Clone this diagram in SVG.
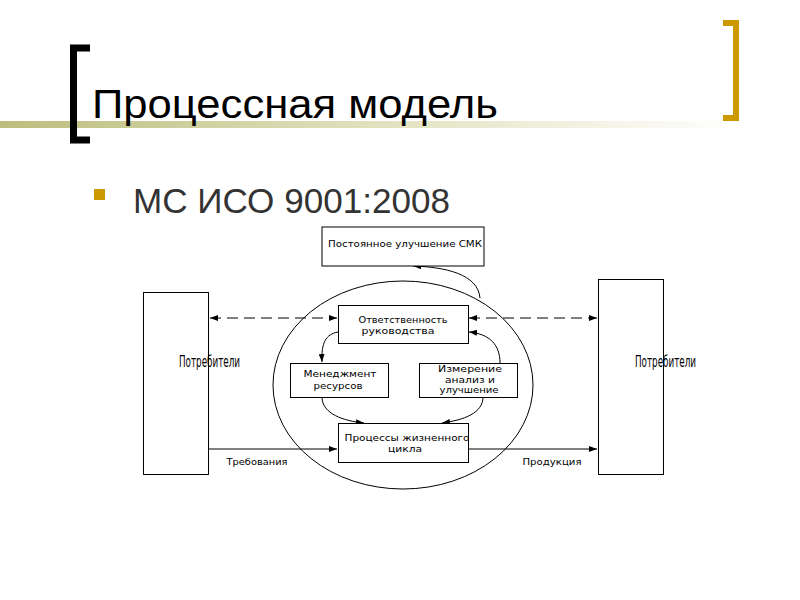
<svg xmlns="http://www.w3.org/2000/svg" width="800" height="600" viewBox="0 0 800 600">
<defs>
<linearGradient id="band" x1="0" y1="0" x2="1" y2="0">
<stop offset="0" stop-color="#BDBD7E"/>
<stop offset="0.55" stop-color="#E4E4C4"/>
<stop offset="1" stop-color="#FFFFFF"/>
</linearGradient>
<marker id="ah" viewBox="0 0 8 6" refX="8" refY="3" markerWidth="8" markerHeight="6" markerUnits="userSpaceOnUse" orient="auto-start-reverse">
<path d="M0,0 L8,3 L0,6 z" fill="#000"/>
</marker>
<style>
.box{fill:#fff;stroke:#000;stroke-width:1}
.t{font-family:"DejaVu Sans","Verdana",sans-serif;font-size:9.5px;fill:#000;text-anchor:middle}
.n{font-family:"DejaVu Sans Condensed","Liberation Sans Narrow",sans-serif;font-size:15px;fill:#000}
.c{fill:none;stroke:#000;stroke-width:1}
.d{stroke-dasharray:11,6}
</style>
</defs>
<rect width="800" height="600" fill="#fff"/>
<g id="header">
<rect x="0" y="121" width="740" height="7" fill="url(#band)"/>
<path d="M90,48 H73.5 V140 H90" fill="none" stroke="#000" stroke-width="7"/>
<path d="M723,23 H736 V118 H723" fill="none" stroke="#CC9900" stroke-width="6"/>
<text x="92" y="118" font-family="'Liberation Sans',Arial,sans-serif" font-size="40" textLength="406" lengthAdjust="spacingAndGlyphs" fill="#000">Процессная модель</text>
<rect x="94" y="189" width="11" height="11" fill="#CC9900"/>
<text x="133" y="213" font-family="'Liberation Sans',Arial,sans-serif" font-size="35" textLength="317" lengthAdjust="spacingAndGlyphs" fill="#333">МС ИСО 9001:2008</text>
</g>
<g id="connectors">
<ellipse cx="403" cy="385" rx="130" ry="104" class="c"/>
<path class="c" d="M480,298 C478,274 445,267 413,266" marker-end="url(#ah)"/>
<line class="c d" x1="210" y1="318" x2="337" y2="318" marker-start="url(#ah)" marker-end="url(#ah)"/>
<line class="c d" x1="469" y1="318" x2="597" y2="318" marker-start="url(#ah)" marker-end="url(#ah)"/>
<path class="c" d="M338,332 C326,334 321,343 322,362" marker-end="url(#ah)"/>
<path class="c" d="M500,363 C500,345 490,334 469,332" marker-end="url(#ah)"/>
<path class="c" d="M322,397 C322,414 344,421 364,423" marker-end="url(#ah)"/>
<path class="c" d="M483,397 C483,413 464,420 442,423" marker-end="url(#ah)"/>
<line class="c" x1="209" y1="449" x2="337" y2="449" marker-end="url(#ah)"/>
<line class="c" x1="468" y1="449" x2="597" y2="449" marker-end="url(#ah)"/>
<text class="t" x="257" y="465" textLength="61" lengthAdjust="spacingAndGlyphs">Требования</text>
<text class="t" x="552" y="465" textLength="59" lengthAdjust="spacingAndGlyphs">Продукция</text>
</g>
<g id="improvement">
<rect class="box" x="322" y="227" width="162" height="39"/>
<text class="t" x="405" y="247" textLength="154" lengthAdjust="spacingAndGlyphs">Постоянное улучшение СМК</text>
</g>
<g id="consumers-left">
<rect class="box" x="143.5" y="292.5" width="65" height="182"/>
<text class="n" x="179" y="367" textLength="61" lengthAdjust="spacingAndGlyphs">Потребители</text>
</g>
<g id="consumers-right">
<rect class="box" x="598.5" y="279.5" width="65" height="195"/>
<text class="n" x="635" y="367" textLength="61" lengthAdjust="spacingAndGlyphs">Потребители</text>
</g>
<g id="responsibility">
<rect class="box" x="338.5" y="305.5" width="130" height="38"/>
<text class="t" x="403" y="323" textLength="89" lengthAdjust="spacingAndGlyphs">Ответственность</text>
<text class="t" x="398" y="334" textLength="73" lengthAdjust="spacingAndGlyphs">руководства</text>
</g>
<g id="resources">
<rect class="box" x="290.5" y="363.5" width="98" height="34"/>
<text class="t" x="340" y="377" textLength="73" lengthAdjust="spacingAndGlyphs">Менеджмент</text>
<text class="t" x="338" y="389" textLength="49" lengthAdjust="spacingAndGlyphs">ресурсов</text>
</g>
<g id="measurement">
<rect class="box" x="419.5" y="363.5" width="98" height="34"/>
<text class="t" x="470" y="372" textLength="64" lengthAdjust="spacingAndGlyphs">Измерение</text>
<text class="t" x="470" y="383" textLength="50" lengthAdjust="spacingAndGlyphs">анализ и</text>
<text class="t" x="469" y="393" textLength="59" lengthAdjust="spacingAndGlyphs">улучшение</text>
</g>
<g id="lifecycle">
<rect class="box" x="338.5" y="423.5" width="130" height="39"/>
<text class="t" x="407" y="441" textLength="125" lengthAdjust="spacingAndGlyphs">Процессы жизненного</text>
<text class="t" x="405" y="452" textLength="34" lengthAdjust="spacingAndGlyphs">цикла</text>
</g>
</svg>
